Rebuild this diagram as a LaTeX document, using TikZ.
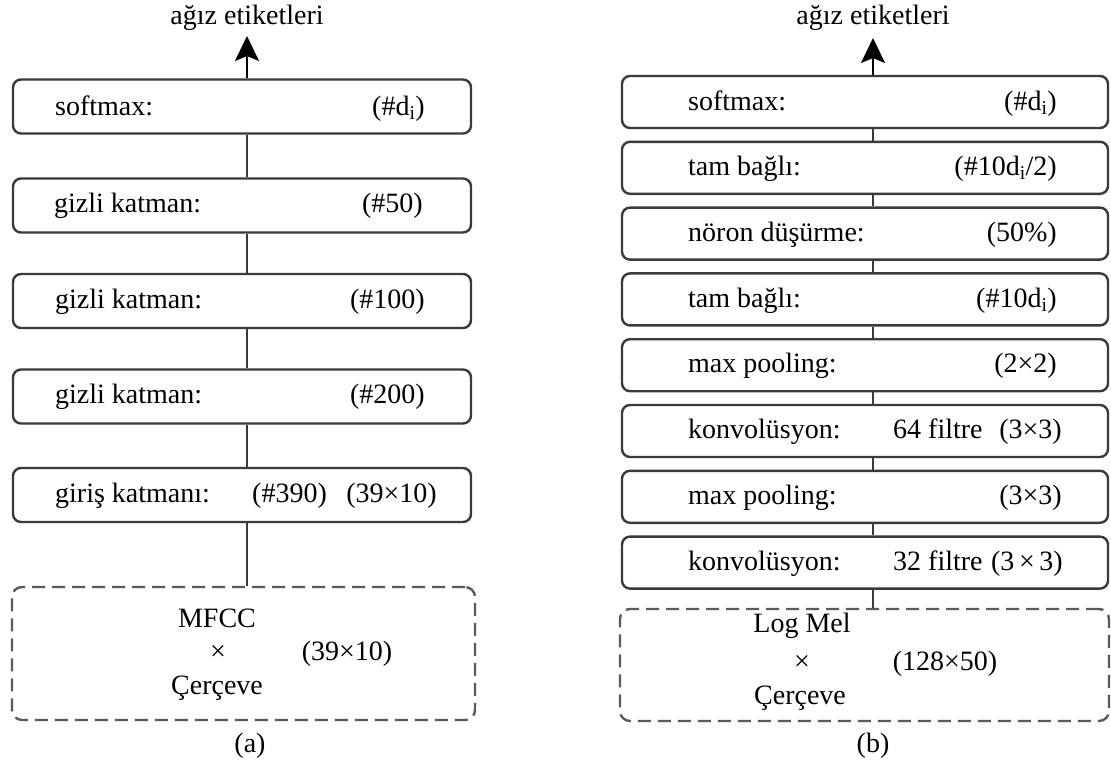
\documentclass[tikz,border=0pt]{standalone}
\usepackage{fontspec}
\setmainfont{Liberation Serif}
\usetikzlibrary{arrows.meta}
\definecolor{edgegray}{HTML}{3A3A3A}
\definecolor{dashgray}{HTML}{5A5A5A}
\begin{document}
\begin{tikzpicture}[x=1pt,y=-1pt,
  every node/.style={font=\fontsize{28}{34}\selectfont, inner sep=0pt},
  layer/.style={draw=edgegray, line width=2.4pt, rounded corners=8pt, fill=white},
  inbox/.style={draw=dashgray, line width=2.4pt, rounded corners=10pt, dash pattern=on 13pt off 7pt},
  link/.style={draw=edgegray, line width=2pt},
  outarrow/.style={draw=black, line width=2.4pt, -{Stealth[length=25pt,width=24pt,inset=5pt]}},
  lab/.style={anchor=base west},
  rlab/.style={anchor=base east},
  ctext/.style={anchor=center}]
\useasboundingbox[fill=white] (0,0) rectangle (1111,764);

% ---------- (a) fully connected network ----------
\node[layer, minimum width=458pt, minimum height=54pt] (a1) at (242,106.5) {};
\node[layer, minimum width=458pt, minimum height=54pt] (a2) at (242,205.5) {};
\node[layer, minimum width=458pt, minimum height=54pt] (a3) at (242,301) {};
\node[layer, minimum width=458pt, minimum height=54pt] (a4) at (242,396.5) {};
\node[layer, minimum width=458pt, minimum height=54pt] (a5) at (242,495) {};
\node[inbox, minimum width=463pt, minimum height=133pt] (ain) at (243.5,653.5) {};

\coordinate (atip) at (247,36);
\node (aout) at (247,18) {ağız etiketleri};
\draw[outarrow] ([xshift=5pt]a1.north) -- (atip);
\draw[link] ([xshift=5pt]a1.south) -- ([xshift=5pt]a2.north);
\draw[link] ([xshift=5pt]a2.south) -- ([xshift=5pt]a3.north);
\draw[link] ([xshift=5pt]a3.south) -- ([xshift=5pt]a4.north);
\draw[link] ([xshift=5pt]a4.south) -- ([xshift=5pt]a5.north);
\draw[link] ([xshift=5pt]a5.south) -- ([xshift=5pt]a5.south |- ain.north);

\node[lab] (a1l) at (55,115) {softmax:};
\node[rlab] (a1r) at (425,115) {(\#d\textsubscript{i})};
\node[lab] (a2l) at (54,212.5) {gizli katman:};
\node[rlab] (a2r) at (423,212.5) {(\#50)};
\node[lab] (a3l) at (55,308) {gizli katman:};
\node[rlab] (a3r) at (425,308) {(\#100)};
\node[lab] (a4l) at (55,403.5) {gizli katman:};
\node[rlab] (a4r) at (425,403.5) {(\#200)};
\node[lab] (a5l) at (55,502) {giriş katmanı:};
\node[lab] (a5m) at (252,502) {(\#390)};
\node[rlab] (a5r) at (437,502) {(39×10)};

\node[ctext] (ain1) at (217,618) {MFCC};
\node[ctext] (ain2) at (218,653) {×};
\node[ctext] (ain3) at (217,688) {Çerçeve};
\node[ctext] (ain4) at (347,654) {(39×10)};

\node[ctext] (capa) at (250,746) {(a)};

% ---------- (b) convolutional network ----------
\node[layer, minimum width=486pt, minimum height=52pt] (b1) at (865,102) {};
\node[layer, minimum width=486pt, minimum height=52pt] (b2) at (865,167.8) {};
\node[layer, minimum width=486pt, minimum height=52pt] (b3) at (865,233.6) {};
\node[layer, minimum width=486pt, minimum height=52pt] (b4) at (865,299.4) {};
\node[layer, minimum width=486pt, minimum height=52pt] (b5) at (865,365.2) {};
\node[layer, minimum width=486pt, minimum height=52pt] (b6) at (865,431) {};
\node[layer, minimum width=486pt, minimum height=52pt] (b7) at (865,496.8) {};
\node[layer, minimum width=486pt, minimum height=52pt] (b8) at (865,562.6) {};
\node[inbox, minimum width=489pt, minimum height=112pt] (bin) at (864.5,665) {};

\coordinate (btip) at (873,38);
\node (bout) at (873,18) {ağız etiketleri};
\draw[outarrow] ([xshift=8pt]b1.north) -- (btip);
\foreach \u/\v in {b1/b2,b2/b3,b3/b4,b4/b5,b5/b6,b6/b7,b7/b8}
  \draw[link] ([xshift=8pt]\u.south) -- ([xshift=8pt]\v.north);
\draw[link] ([xshift=8pt]b8.south) -- ([xshift=8pt]b8.south |- bin.north);

\node[lab] (b1l) at (688,110) {softmax:};
\node[rlab] (b1r) at (1057,110) {(\#d\textsubscript{i})};
\node[lab] (b2l) at (688,175.5) {tam bağlı:};
\node[rlab] (b2r) at (1057,175.5) {(\#10d\textsubscript{i}/2)};
\node[lab] (b3l) at (688,241.3) {nöron düşürme:};
\node[rlab] (b3r) at (1057,241.3) {(50\%)};
\node[lab] (b4l) at (688,307.1) {tam bağlı:};
\node[rlab] (b4r) at (1057,307.1) {(\#10d\textsubscript{i})};
\node[lab] (b5l) at (688,372.9) {max pooling:};
\node[rlab] (b5r) at (1057,372.9) {(2×2)};
\node[lab] (b6l) at (688,438.7) {konvolüsyon:};
\node[lab] (b6m) at (893,438.7) {64 filtre};
\node[rlab] (b6r) at (1062,438.7) {(3×3)};
\node[lab] (b7l) at (688,504.5) {max pooling:};
\node[rlab] (b7r) at (1062,504.5) {(3×3)};
\node[lab] (b8l) at (688,570.3) {konvolüsyon:};
\node[lab] (b8m) at (893,570.3) {32 filtre};
\node[rlab] (b8r) at (1063,570.3) {(3{\,}×{\,}3)};

\node[ctext] (bin1) at (802,626) {Log Mel};
\node[ctext] (bin2) at (802,663) {×};
\node[ctext] (bin3) at (800,698) {Çerçeve};
\node[ctext] (bin4) at (945,664) {(128×50)};

\node[ctext] (capb) at (873,746) {(b)};
\end{tikzpicture}
\end{document}
